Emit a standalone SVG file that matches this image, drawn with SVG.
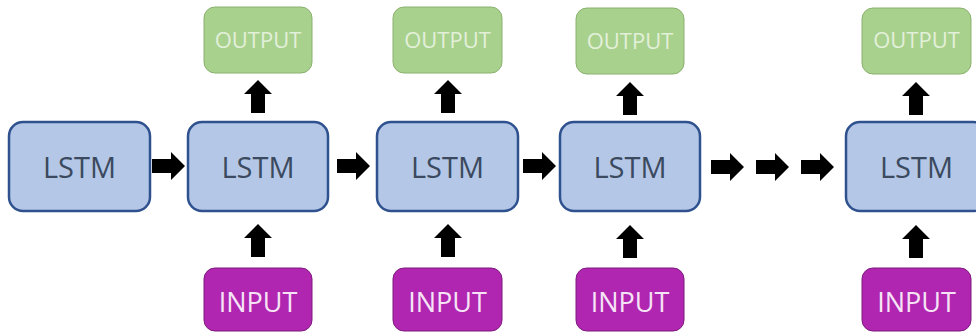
<svg xmlns="http://www.w3.org/2000/svg" width="976" height="332" viewBox="0 0 976 332">
  <style>
    .lstm rect { fill: #b4c7e7; stroke: #2f528f; stroke-width: 2.5; }
    .lstm text { fill: #3b4a5e; font-family: "Open Sans", "Noto Sans", sans-serif; font-size: 29px; text-anchor: middle; }
    .out rect { fill: #a9d18e; stroke: #8ab06e; stroke-width: 1; }
    .out text { fill: #e2f0d9; font-family: "Open Sans", "Noto Sans", sans-serif; font-size: 22px; text-anchor: middle; }
    .in rect { fill: #b026b0; stroke: #7d1a7d; stroke-width: 1; }
    .in text { fill: #f6e3f6; font-family: "Open Sans", "Noto Sans", sans-serif; font-size: 27px; text-anchor: middle; }
    .arrow { fill: #000; }
  </style>
  <defs>
    <!-- block arrow pointing right, tail centre at the origin -->
    <path id="blockArrow" class="arrow" d="M0,-7 H19 V-14 L33,0 L19,14 V7 H0 Z"/>
  </defs>

  <rect width="976" height="332" fill="#fff"/>

  <!-- LSTM cells -->
  <g id="lstm1" class="lstm"><rect x="9" y="122" width="141" height="89" rx="14"/><text x="79.5" y="178">LSTM</text></g>
  <g id="lstm2" class="lstm"><rect x="188" y="122" width="140" height="89" rx="14"/><text x="258" y="178">LSTM</text></g>
  <g id="lstm3" class="lstm"><rect x="377" y="122" width="141" height="89" rx="14"/><text x="447.5" y="178">LSTM</text></g>
  <g id="lstm4" class="lstm"><rect x="560" y="122" width="140" height="89" rx="14"/><text x="630" y="178">LSTM</text></g>
  <g id="lstm5" class="lstm"><rect x="846" y="122" width="141" height="89" rx="14"/><text x="916.5" y="178">LSTM</text></g>

  <!-- outputs -->
  <g id="output2" class="out"><rect x="204" y="7" width="108" height="66" rx="11"/><text x="258" y="48">OUTPUT</text></g>
  <g id="output3" class="out"><rect x="393" y="7" width="109" height="66" rx="11"/><text x="447.5" y="48">OUTPUT</text></g>
  <g id="output4" class="out"><rect x="576" y="8" width="108" height="66" rx="11"/><text x="630" y="49">OUTPUT</text></g>
  <g id="output5" class="out"><rect x="862" y="8" width="109" height="66" rx="11"/><text x="916.5" y="48">OUTPUT</text></g>

  <!-- inputs -->
  <g id="input2" class="in"><rect x="204" y="268" width="108" height="63" rx="11"/><text x="258" y="312">INPUT</text></g>
  <g id="input3" class="in"><rect x="393" y="268" width="109" height="63" rx="11"/><text x="447.5" y="312">INPUT</text></g>
  <g id="input4" class="in"><rect x="576" y="268" width="108" height="63" rx="11"/><text x="630" y="312">INPUT</text></g>
  <g id="input5" class="in"><rect x="862" y="268" width="109" height="63" rx="11"/><text x="916.5" y="312">INPUT</text></g>

  <!-- connectors -->
  <g id="connectors">
    <!-- recurrent links between cells -->
    <use href="#blockArrow" transform="translate(152,166)"/>
    <use href="#blockArrow" transform="translate(337,166)"/>
    <use href="#blockArrow" transform="translate(523,166)"/>
    <use href="#blockArrow" transform="translate(711,167)"/>
    <use href="#blockArrow" transform="translate(756,167)"/>
    <use href="#blockArrow" transform="translate(801,167)"/>
    <!-- cell to output -->
    <use href="#blockArrow" transform="translate(258,113) rotate(-90)"/>
    <use href="#blockArrow" transform="translate(448,113) rotate(-90)"/>
    <use href="#blockArrow" transform="translate(630,115) rotate(-90)"/>
    <use href="#blockArrow" transform="translate(916,115) rotate(-90)"/>
    <!-- input to cell -->
    <use href="#blockArrow" transform="translate(258,257) rotate(-90)"/>
    <use href="#blockArrow" transform="translate(448,257) rotate(-90)"/>
    <use href="#blockArrow" transform="translate(630,258) rotate(-90)"/>
    <use href="#blockArrow" transform="translate(916,258) rotate(-90)"/>
  </g>
</svg>
